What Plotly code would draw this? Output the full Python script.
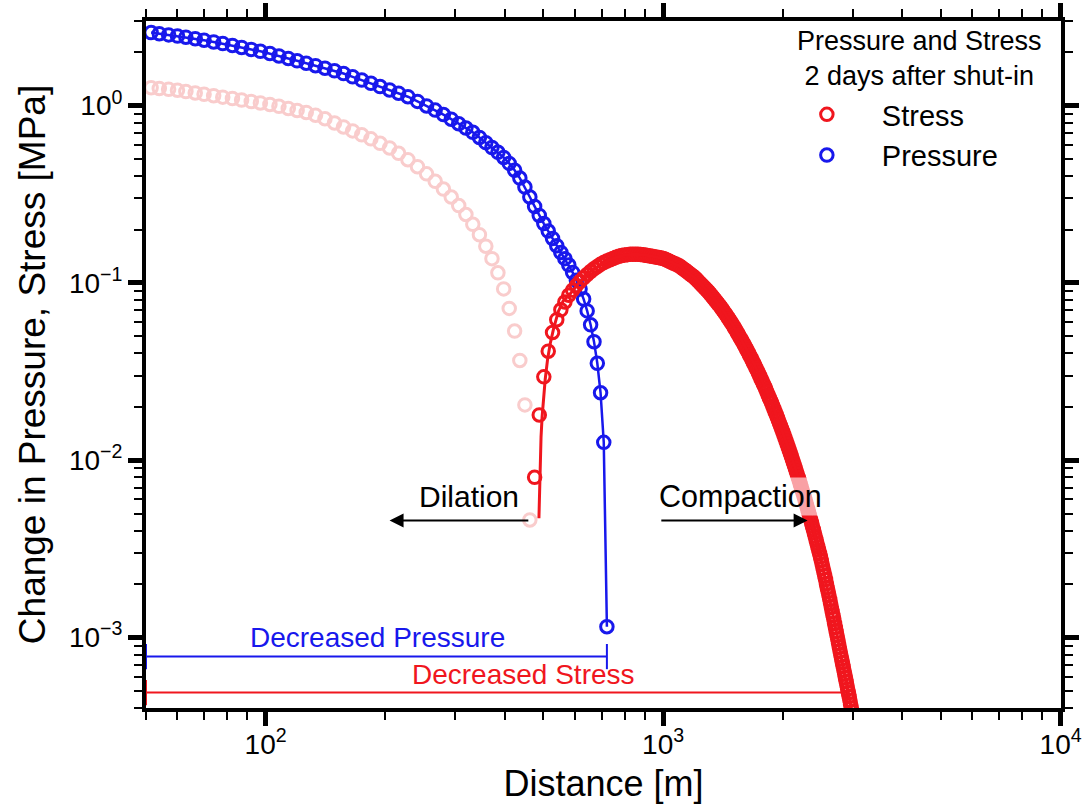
import math
import plotly.graph_objects as go

# ---------------------------------------------------------------------------
# Distance grid [m] and change in pore pressure [MPa], 2 days after shut-in
# ---------------------------------------------------------------------------
pressure_dist = [
    51.5, 54, 57, 60, 63, 66.5, 70, 74, 78, 82.5, 87, 92, 97, 102.5,
    108, 114, 120, 126.5, 133.5, 141, 149, 157, 165.5, 174.5, 184, 194,
    205, 216, 228, 241, 254, 267, 280, 293, 306, 319, 332, 345, 358, 371,
    384, 397, 410, 423, 436, 449, 462, 475, 488, 501, 514, 527, 540, 553,
    566, 579, 592, 605, 618, 631, 644, 657, 670, 683, 696, 709, 722,
]
pressure_mpa = [
    2.582, 2.545, 2.505, 2.466, 2.431, 2.385, 2.336, 2.285, 2.237, 2.183,
    2.129, 2.074, 2.023, 1.967, 1.906, 1.845, 1.789, 1.733, 1.678, 1.624,
    1.571, 1.516, 1.453, 1.393, 1.335, 1.280, 1.225, 1.175, 1.122, 1.056,
    0.996, 0.943, 0.890, 0.838, 0.790, 0.747, 0.707, 0.661, 0.618, 0.580,
    0.545, 0.510, 0.472, 0.432, 0.390, 0.347, 0.305, 0.270, 0.240, 0.216,
    0.196, 0.178, 0.162, 0.1485, 0.137, 0.126, 0.1145, 0.1035, 0.0925,
    0.0810, 0.0695, 0.0580, 0.0466, 0.0352, 0.0240, 0.0126, 0.00115,
]

# Stress change inside the dilating zone (negative change, plotted as magnitude)
dilation_dist = [
    51.5, 54, 57, 60, 63, 66.5, 70, 74, 78, 82.5, 87, 92, 97, 102.5,
    108, 114, 120, 126.5, 133.5, 141, 149, 157, 165.5, 174.5, 184, 194,
    205, 216, 228, 241, 254, 267, 280, 293, 306, 319, 332, 345, 358, 371,
    384, 397, 410, 423, 436, 449, 462,
]
dilation_mpa = [
    1.262, 1.250, 1.236, 1.221, 1.200, 1.179, 1.158, 1.137, 1.116, 1.095,
    1.075, 1.054, 1.035, 1.015, 0.991, 0.964, 0.939, 0.915, 0.882, 0.843,
    0.798, 0.758, 0.720, 0.684, 0.649, 0.613, 0.577, 0.538, 0.495, 0.452,
    0.412, 0.374, 0.338, 0.305, 0.273, 0.243, 0.214, 0.187, 0.161, 0.137,
    0.114, 0.0925, 0.0718, 0.0535, 0.0365, 0.0205, 0.0046,
]

# Stress change in the compacting zone [MPa]
stress_dist = [
    475, 488, 501, 514, 527, 540, 553, 566, 579, 592, 605, 618, 631, 644,
    657, 670, 683, 696, 709, 722, 735, 748, 761, 774, 787, 800, 813, 826,
    839, 852, 865, 878, 891, 904,
    912.5, 925, 937.5, 950, 962.5, 975, 987.5, 1000,
    1012.5, 1025, 1037.5, 1050, 1062.5, 1075, 1087.5, 1100,
    1112.5, 1125, 1137.5, 1150, 1162.5, 1175, 1187.5, 1200,
    1212.5, 1225, 1237.5, 1250, 1262.5, 1275, 1287.5, 1300,
    1312.5, 1325, 1337.5, 1350, 1362.5, 1375, 1387.5, 1400,
    1412.5, 1425, 1437.5, 1450, 1462.5, 1475, 1487.5, 1500,
    1512.5, 1525, 1537.5, 1550, 1562.5, 1575, 1587.5, 1600,
    1612.5, 1625, 1637.5, 1650, 1662.5, 1675, 1687.5, 1700,
    1712.5, 1725, 1737.5, 1750, 1762.5, 1775, 1787.5, 1800,
    1812.5, 1825, 1837.5, 1850, 1862.5, 1875, 1887.5, 1900,
    1912.5, 1925, 1937.5, 1950, 1962.5, 1975, 1987.5, 2000,
    2012.5, 2025, 2037.5, 2050, 2062.5, 2075, 2087.5, 2100,
    2112.5, 2125, 2137.5, 2150, 2162.5, 2175, 2187.5, 2200,
    2212.5, 2225, 2237.5, 2250, 2262.5, 2275, 2287.5, 2300,
    2312.5, 2325, 2337.5, 2350, 2362.5, 2375, 2387.5, 2400,
    2412.5, 2425, 2437.5, 2450, 2462.5, 2475, 2487.5, 2500,
    2512.5, 2525, 2537.5, 2550, 2562.5, 2575, 2587.5, 2600,
    2612.5, 2625, 2637.5, 2650, 2662.5, 2675, 2687.5, 2700,
    2712.5, 2725, 2737.5, 2750, 2762.5, 2775, 2787.5, 2800,
    2812.5, 2825, 2837.5, 2850, 2862.5, 2875, 2887.5, 2900,
    2912.5, 2925, 2937.5, 2950, 2962.5, 2975, 2987.5, 3000,
    3012.5, 3025, 3037.5, 3050,
]
stress_mpa = [
    0.0080, 0.0180, 0.0295, 0.0412, 0.0525, 0.0620, 0.0705, 0.0780, 0.0852,
    0.0910, 0.0965, 0.1018, 0.1068, 0.1115, 0.1158, 0.1200, 0.1238, 0.1273,
    0.1303, 0.1329, 0.1352, 0.1374, 0.1393, 0.1411, 0.1425, 0.1435, 0.1443,
    0.1449, 0.1452, 0.1452, 0.1450, 0.1446, 0.1440, 0.1432,
    0.1427, 0.1420, 0.1412, 0.1404, 0.1397, 0.1389, 0.1381, 0.1374,
    0.1357, 0.1341, 0.1324, 0.1308, 0.1292, 0.1276, 0.1260, 0.1245,
    0.1221, 0.1199, 0.1177, 0.1155, 0.1133, 0.1112, 0.1092, 0.1072,
    0.1047, 0.1023, 0.1000, 0.0977, 0.0955, 0.0933, 0.0912, 0.0891,
    0.0869, 0.0846, 0.0825, 0.0804, 0.0783, 0.0763, 0.0744, 0.0724,
    0.0704, 0.0684, 0.0665, 0.0646, 0.0627, 0.0610, 0.0592, 0.0575,
    0.0557, 0.0540, 0.0523, 0.0507, 0.0491, 0.0476, 0.0461, 0.0447,
    0.0432, 0.0418, 0.0405, 0.0391, 0.0379, 0.0366, 0.0354, 0.0343,
    0.0331, 0.0320, 0.0309, 0.0299, 0.0288, 0.0279, 0.0269, 0.0260,
    0.0251, 0.0242, 0.0233, 0.0225, 0.0217, 0.0210, 0.0202, 0.0195,
    0.01878, 0.01809, 0.01743, 0.01679, 0.01617, 0.01558, 0.01500, 0.01445,
    0.01391, 0.01337, 0.01287, 0.01237, 0.01190, 0.01145, 0.01101, 0.01059,
    0.01017, 0.00977, 0.00939, 0.00902, 0.00866, 0.00832, 0.00799, 0.00767,
    0.00736, 0.00706, 0.00677, 0.00650, 0.00623, 0.00598, 0.00573, 0.00550,
    0.00526, 0.00504, 0.00483, 0.00462, 0.00443, 0.00424, 0.00406, 0.00389,
    0.00372, 0.00356, 0.00340, 0.00325, 0.00311, 0.00298, 0.00285, 0.00272,
    0.00259, 0.00246, 0.00234, 0.00223, 0.00212, 0.00201, 0.00191, 0.00182,
    0.00173, 0.00164, 0.00156, 0.00148, 0.00140, 0.00133, 0.00127, 0.00120,
    0.00114, 0.00108, 0.00103, 0.000977, 0.000928, 0.000881, 0.000837, 0.000794,
    0.000756, 0.000720, 0.000686, 0.000653, 0.000622, 0.000592, 0.000564, 0.000537,
    0.000511, 0.000487, 0.000464, 0.000442, 0.000420, 0.000400, 0.000381, 0.000363,
    0.000347, 0.000331, 0.000316, 0.000302,
]

# Modelled stress curve (solid red line)
stress_model_dist = [
    487, 490, 493, 496, 500, 505, 512, 520, 530, 545, 560, 582, 618, 657,
    700, 750, 800, 850, 900, 1000, 1100, 1200, 1300, 1400, 1500, 1600,
    1700, 1800, 1900, 2000, 2100, 2200, 2300, 2400, 2500, 2600, 2700,
    2800, 2900, 3000, 3050,
]
stress_model_mpa = [
    0.0047, 0.0090, 0.0135, 0.0175, 0.0225, 0.0285, 0.0370, 0.0455, 0.0550,
    0.0690, 0.0790, 0.0860, 0.1018, 0.1158, 0.1280, 0.1377, 0.1435, 0.1452,
    0.1435, 0.1374, 0.1245, 0.1072, 0.0891, 0.0724, 0.0575, 0.0447, 0.0343,
    0.0260, 0.0195, 0.01445, 0.01059, 0.00767, 0.00550, 0.00389, 0.00272,
    0.00182, 0.00120, 0.000794, 0.000537, 0.000363, 0.000299,
]

# Extent of the zones with decreased pressure / decreased stress
decreased_pressure_dist = [50, 722]
decreased_pressure_level = [0.00078, 0.00078]
decreased_stress_dist = [50, 2900]
decreased_stress_level = [0.000489, 0.000489]

# Axis ticks
x_tick_vals = [100, 1000, 10000]
x_tick_text = ["10<sup>2</sup>", "10<sup>3</sup>", "10<sup>4</sup>"]
y_tick_vals = [0.001, 0.01, 0.1, 1]
y_tick_text = ["10<sup>\u22123</sup>", "10<sup>\u22122</sup>",
               "10<sup>\u22121</sup>", "10<sup>0</sup>"]
x_minor_vals = [m * 10 ** e for e in (1, 2, 3) for m in range(2, 10)
                if m * 10 ** e >= 50]
y_minor_vals = [m * 10.0 ** e for e in (-4, -3, -2, -1, 0) for m in range(2, 10)
                if 4e-4 <= m * 10.0 ** e <= 3]

# Text annotations: (distance [m], value [MPa])
dilation_label_at = (324, 0.0062)
dilation_arrow = (462, 205, 0.00456)          # tail, head, level
compaction_label_at = (1569, 0.0062)
compaction_arrow = (981, 2310, 0.00456)
decreased_pressure_label_at = (191, 0.00100)
decreased_stress_label_at = (446, 0.000618)

RED = "rgb(240,22,30)"
BLUE = "rgb(24,24,236)"
PINK = "rgb(249,204,204)"
FONT = "Liberation Sans, Arial, Helvetica, sans-serif"
MARKER_SIZE = 12.5
MARKER_LINE = 3

fig = go.Figure()

# zone extents
fig.add_trace(go.Scatter(
    x=decreased_stress_dist, y=decreased_stress_level, mode="lines+markers",
    line=dict(color=RED, width=2),
    marker=dict(symbol="line-ns", size=18, line=dict(color=RED, width=2)),
    showlegend=False, hoverinfo="skip"))
fig.add_trace(go.Scatter(
    x=decreased_pressure_dist, y=decreased_pressure_level, mode="lines+markers",
    line=dict(color=BLUE, width=2),
    marker=dict(symbol="line-ns", size=18, line=dict(color=BLUE, width=2)),
    showlegend=False, hoverinfo="skip"))

# dilating zone (faint)
fig.add_trace(go.Scatter(
    x=dilation_dist, y=dilation_mpa, mode="markers",
    marker=dict(symbol="circle-open", size=MARKER_SIZE, color=PINK,
                line=dict(width=MARKER_LINE)),
    showlegend=False))

# pressure
fig.add_trace(go.Scatter(
    x=pressure_dist, y=pressure_mpa, mode="lines",
    line=dict(color=BLUE, width=2.5), showlegend=False, hoverinfo="skip"))
fig.add_trace(go.Scatter(
    x=pressure_dist, y=pressure_mpa, mode="markers", name="Pressure",
    legendrank=2,
    marker=dict(symbol="circle-open", size=MARKER_SIZE, color=BLUE,
                line=dict(width=MARKER_LINE))))

# stress
fig.add_trace(go.Scatter(
    x=stress_dist, y=stress_mpa, mode="markers", name="Stress",
    legendrank=1,
    marker=dict(symbol="circle-open", size=MARKER_SIZE, color=RED,
                line=dict(width=MARKER_LINE))))
fig.add_trace(go.Scatter(
    x=stress_model_dist, y=stress_model_mpa, mode="lines",
    line=dict(color=RED, width=3), showlegend=False, hoverinfo="skip"))


def lg(v):
    return math.log10(v)


annotations = [
    dict(x=lg(dilation_label_at[0]), y=lg(dilation_label_at[1]),
         text="Dilation", showarrow=False,
         font=dict(size=30, color="black"),
         bgcolor="rgba(255,255,255,0.6)"),
    dict(x=lg(dilation_arrow[1]), y=lg(dilation_arrow[2]),
         ax=lg(dilation_arrow[0]), ay=lg(dilation_arrow[2]),
         axref="x", ayref="y", text="", showarrow=True,
         arrowhead=2, arrowsize=1.4, arrowwidth=2, arrowcolor="black"),
    dict(x=lg(compaction_label_at[0]), y=lg(compaction_label_at[1]),
         text="Compaction", showarrow=False,
         font=dict(size=30.5, color="black"),
         bgcolor="rgba(255,255,255,0.6)"),
    dict(x=lg(compaction_arrow[1]), y=lg(compaction_arrow[2]),
         ax=lg(compaction_arrow[0]), ay=lg(compaction_arrow[2]),
         axref="x", ayref="y", text="", showarrow=True,
         arrowhead=2, arrowsize=1.4, arrowwidth=2, arrowcolor="black"),
    dict(x=lg(decreased_pressure_label_at[0]), y=lg(decreased_pressure_label_at[1]),
         text="Decreased Pressure", showarrow=False,
         font=dict(size=28, color=BLUE)),
    dict(x=lg(decreased_stress_label_at[0]), y=lg(decreased_stress_label_at[1]),
         text="Decreased Stress", showarrow=False,
         font=dict(size=28, color=RED)),
    # legend heading
    dict(x=0.845, y=0.946, xref="paper", yref="paper",
         xanchor="center", yanchor="middle",
         text="Pressure and Stress<br>2 days after shut-in", showarrow=False,
         align="center", font=dict(size=27, color="black")),
]

axis_common = dict(
    type="log", ticks="outside", ticklen=14, tickwidth=5, tickcolor="black",
    showline=True, linewidth=4, linecolor="black", mirror="ticks",
    showgrid=False, zeroline=False, automargin=False,
    tickfont=dict(size=28, color="black", family=FONT),
)

fig.update_layout(
    width=1082, height=804,
    margin=dict(l=146, r=21, t=21, b=96, pad=0),
    paper_bgcolor="white", plot_bgcolor="white",
    font=dict(family=FONT, color="black"),
    xaxis=dict(
        **axis_common,
        range=[lg(50), 4.001],
        tickvals=x_tick_vals, ticktext=x_tick_text,
        ticklabelstandoff=-6,
        minor=dict(tickvals=x_minor_vals, ticks="outside", ticklen=8,
                   tickwidth=2, tickcolor="black", showgrid=False),
        title=dict(text="Distance [m]", font=dict(size=36), standoff=27),
    ),
    yaxis=dict(
        **axis_common,
        range=[lg(4e-4), lg(3)],
        tickvals=y_tick_vals, ticktext=y_tick_text,
        minor=dict(tickvals=y_minor_vals, ticks="outside", ticklen=8,
                   tickwidth=2, tickcolor="black", showgrid=False),
        title=dict(text="Change in Pressure, Stress [MPa]",
                   font=dict(size=37), standoff=13),
    ),
    legend=dict(
        font=dict(size=29, color="black"),
        x=0.684, xanchor="left", y=0.901, yanchor="top",
        bgcolor="rgba(0,0,0,0)", borderwidth=0, itemwidth=100,
    ),
    annotations=annotations,
)

fig.write_html("out.html")
